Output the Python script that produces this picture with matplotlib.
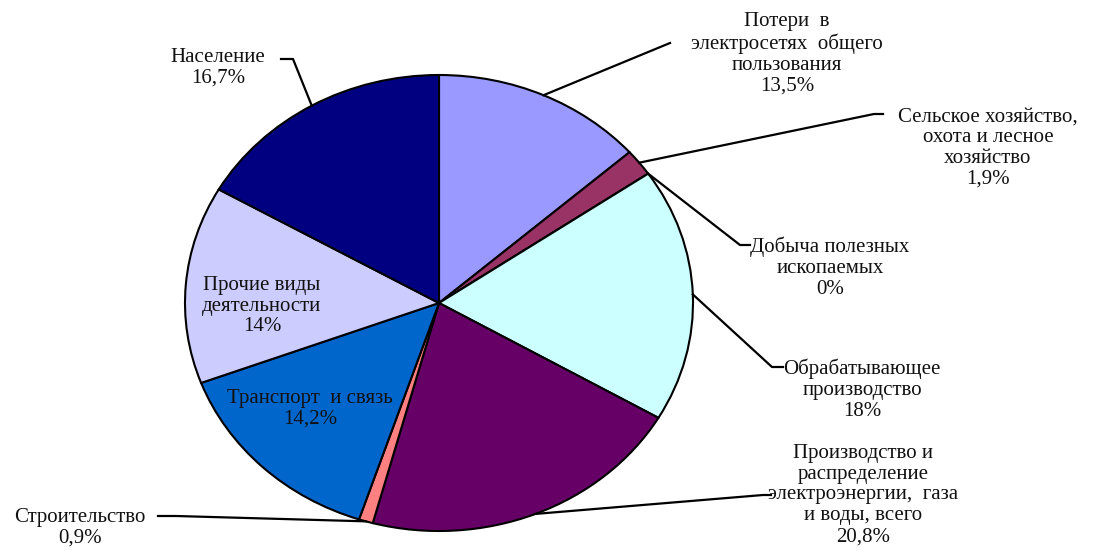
import numpy as np
import matplotlib.pyplot as plt

# доли потребления электроэнергии, %
categories = [
    "Потери  в\nэлектросетях  общего\nпользования",
    "Сельское хозяйство,\nохота и лесное\nхозяйство",
    "Добыча полезных\nископаемых",
    "Обрабатывающее\nпроизводство",
    "Производство и\nраспределение\nэлектроэнергии,  газа\nи воды, всего",
    "Строительство",
    "Транспорт  и связь",
    "Прочие виды\nдеятельности",
    "Население",
]
values = [13.5, 1.9, 0.0, 18.0, 20.8, 0.9, 14.2, 14.0, 16.7]
value_labels = ["13,5%", "1,9%", "0%", "18%", "20,8%", "0,9%", "14,2%", "14%", "16,7%"]
colors = ["#9999FF", "#993366", "#CCFFFF", "#CCFFFF", "#660066",
          "#FF8080", "#0066CC", "#CCCCFF", "#000080"]

W, H = 1096, 551
CX, CY, RX, RY = 439, 303, 254, 228   # эллипс диаграммы в пикселях картинки

# положение подписей (центр блока текста, пиксели сверху-слева) и ломаные выноски
label_pos = [(787, 54), (988, 148), (830, 268), (862, 390), (863, 495),
             (80, 528), (310, 409), (262, 306), (218, 68)]
leaders = [
    [(670, 43)],
    [(874, 114), (883, 114)],
    [(740, 245), (750, 245)],
    [(772, 367), (783, 367)],
    [(763, 495), (771, 495)],
    [(176, 516), (158, 516)],
    None,
    None,
    [(293, 59), (281, 59)],
]

plt.rcParams["font.family"] = ["Liberation Serif", "DejaVu Serif"]

fig = plt.figure(figsize=(W / 100, H / 100), dpi=100)
ax = fig.add_axes([(CX - RX) / W, (H - CY - RY) / H, 2 * RX / W, 2 * RY / H])

ax.pie(values, colors=colors, startangle=90, counterclock=False,
       wedgeprops=dict(edgecolor="black", linewidth=1.5))
ax.set_aspect("auto")
ax.set_xlim(-1, 1)
ax.set_ylim(-1, 1)
ax.axis("off")


def to_data(px, py):
    return (px - CX) / RX, (CY - py) / RY


total = sum(values)
cum = 0.0
for i, v in enumerate(values):
    mid = np.deg2rad(90 - 360 * (cum + v / 2) / total)
    cum += v

    text = categories[i] + "\n" + value_labels[i]
    tx, ty = label_pos[i]
    fig.text(tx / W, 1 - ty / H, text, ha="center", va="center",
             fontsize=15, linespacing=1.13, color="#111111")

    if leaders[i] is not None:
        pts = [(np.cos(mid), np.sin(mid))] + [to_data(px, py) for px, py in leaders[i]]
        xs, ys = zip(*pts)
        ax.plot(xs, ys, color="black", linewidth=1.6, clip_on=False)

fig.savefig("out.png", dpi=100)
